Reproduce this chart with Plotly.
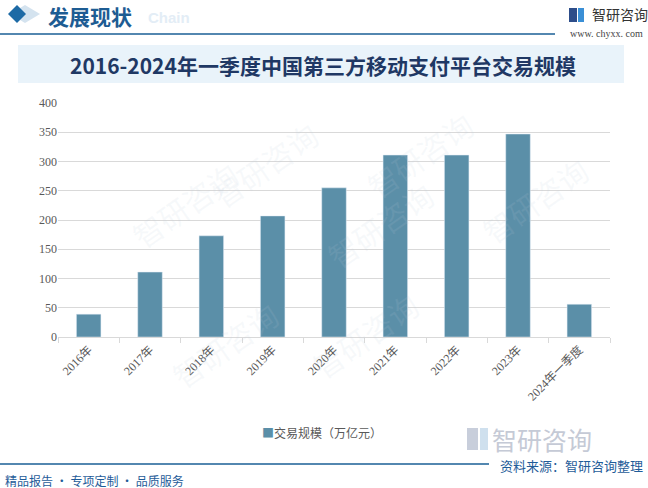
import plotly.graph_objects as go

categories = ["2016年", "2017年", "2018年", "2019年", "2020年", "2021年", "2022年", "2023年", "2024年一季度"]
values = [39, 111, 173, 207, 255, 311, 311, 347, 56]
series_name = "交易规模（万亿元）"
title_text = "2016-2024年一季度中国第三方移动支付平台交易规模"

W, H = 648, 488
L, R, T, B = 58, 38, 103, 151
PW, PH = W - L - R, H - T - B
BAR_COLOR = "#5b8fa8"


def px(x):
    return (x - L) / PW


def py(y):
    return (H - B - y) / PH


SERIF = "Liberation Serif, DejaVu Serif, Noto Sans CJK SC, serif"
CJK = "Noto Sans CJK SC, sans-serif"
BLUE = "#1a5f96"

fig = go.Figure()
fig.add_trace(go.Bar(
    x=categories, y=values, name=series_name,
    marker=dict(color=BAR_COLOR),
    showlegend=False,
))

shapes = []
annotations = []

# faint watermarks
for (wx, wy) in [(200, 110), (420, 100), (120, 260), (380, 280), (160, 400), (430, 390), (600, 200)]:
    annotations.append(dict(x=px(wx), y=py(wy), xref="paper", yref="paper", text="智研咨询",
                            showarrow=False, textangle=-35,
                            font=dict(family=CJK, size=30, color="rgba(190,205,220,0.12)")))

# header diamonds
shapes.append(dict(type="path", xref="paper", yref="paper", layer="above",
                   path=f"M {px(25)} {py(5)} L {px(40)} {py(14)} L {px(25)} {py(23)} L {px(10)} {py(14)} Z",
                   fillcolor="#d4e3ef", line=dict(width=0)))
shapes.append(dict(type="path", xref="paper", yref="paper", layer="above",
                   path=f"M {px(17)} {py(5)} L {px(26)} {py(14)} L {px(17)} {py(23)} L {px(8)} {py(14)} Z",
                   fillcolor="#1d6aa5", line=dict(width=0)))
# header line
shapes.append(dict(type="line", xref="paper", yref="paper", x0=px(0), x1=px(555), y0=py(34), y1=py(34),
                   line=dict(color=BLUE, width=1.5)))
# title box
shapes.append(dict(type="rect", xref="paper", yref="paper", x0=px(18), x1=px(624), y0=py(45), y1=py(83),
                   fillcolor="#e9f3fa", line=dict(width=0), layer="below"))
# footer line
shapes.append(dict(type="line", xref="paper", yref="paper", x0=px(0), x1=px(489), y0=py(464), y1=py(464),
                   line=dict(color=BLUE, width=1.5)))
# logo icon (top right)
shapes.append(dict(type="rect", xref="paper", yref="paper", x0=px(569), x1=px(577), y0=py(8), y1=py(22),
                   fillcolor="#2d4d8a", line=dict(width=0)))
shapes.append(dict(type="rect", xref="paper", yref="paper", x0=px(578), x1=px(584), y0=py(8), y1=py(22),
                   fillcolor="#3a8fd6", line=dict(width=0)))
# big logo watermark icon
shapes.append(dict(type="rect", xref="paper", yref="paper", x0=px(467), x1=px(478), y0=py(428), y1=py(450),
                   fillcolor="#c8cedb", line=dict(width=0)))
shapes.append(dict(type="rect", xref="paper", yref="paper", x0=px(480), x1=px(488), y0=py(428), y1=py(450),
                   fillcolor="#cfe0ee", line=dict(width=0)))


def txt(x, y, s, size, color, family=CJK, xanchor="left", bold=False):
    if bold:
        s = f"<b>{s}</b>"
    annotations.append(dict(x=px(x), y=py(y), xref="paper", yref="paper", text=s, showarrow=False,
                            xanchor=xanchor, yanchor="middle",
                            font=dict(family=family, size=size, color=color)))


txt(146, 18, "Chain", 15, "#e3edf6", family="Liberation Sans, Arial, sans-serif", bold=True)
txt(46, 16, "发展现状", 21, "#1d5c93", bold=True)
txt(590, 14, "智研咨询", 14, "#333333")
txt(645, 34, "www. chyxx. com", 10, "#444444", family=SERIF, xanchor="right")
txt(323, 65, title_text, 21, "#1f3864", family=CJK, xanchor="center", bold=True)
txt(490, 439, "智研咨询", 25, "#c5cad6")
txt(645, 465, "资料来源：智研咨询整理", 13, "#1f5c99", xanchor="right")
txt(3, 480, "精品报告 · 专项定制 · 品质服务", 12, "#1f5c99")
# legend (square + series name)
txt(260, 432, f"<span style='color:{BAR_COLOR}'>■</span>{series_name}", 12, "#595959")

fig.update_layout(
    width=W, height=H,
    margin=dict(l=L, r=R, t=T, b=B, pad=0),
    paper_bgcolor="white", plot_bgcolor="white",
    bargap=0.6,
    shapes=shapes,
    annotations=annotations,
    showlegend=False,
    xaxis=dict(
        showline=True, linecolor="#d9d9d9", linewidth=1,
        ticks="outside", tickson="boundaries", tickcolor="#d9d9d9", ticklen=5,
        tickangle=-45, tickfont=dict(family=SERIF, size=12, color="#595959"),
        showgrid=False,
    ),
    yaxis=dict(
        range=[0, 400], dtick=50, showgrid=True, gridcolor="#d9d9d9", gridwidth=1,
        zeroline=False, showline=False, ticks="",
        tickfont=dict(family=SERIF, size=12, color="#595959"),
    ),
)

fig.write_html("out.html", config={"displayModeBar": False},
               post_script="document.body.style.margin='0';document.body.style.overflow='hidden';")
